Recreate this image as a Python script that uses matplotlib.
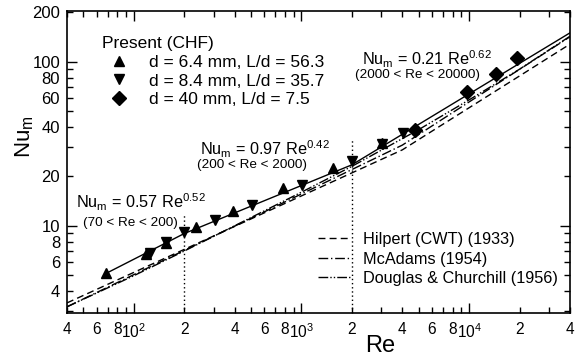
import numpy as np
import matplotlib
matplotlib.use("Agg")
import matplotlib.pyplot as plt
from matplotlib.ticker import FixedLocator, FixedFormatter
from matplotlib.lines import Line2D

plt.rcParams['font.family'] = ['Liberation Sans', 'DejaVu Sans']
plt.rcParams['mathtext.default'] = 'regular'

# present data
re_d64 = [68, 118, 156, 235, 392, 776, 1536, 3034]
nu_d64 = [5.17, 6.72, 7.88, 9.78, 12.3, 16.9, 22.4, 31.8]
re_d84 = [125, 155, 200, 305, 509, 1003, 1995, 3030, 4050]
nu_d84 = [6.84, 7.9, 9.1, 10.9, 13.4, 17.7, 24.9, 31.5, 36.6]
re_d40 = [4755, 9664, 14460, 19370]
nu_d40 = [38.3, 65.6, 84.1, 106]

# fitted curve (piecewise straight on log-log)
re_fit = [68, 200, 2000, 40000]
nu_fit = [5.1, 8.95, 23.5, 150]

# correlations
re_hil = [40, 4000, 40000]
nu_hil = [3.38, 29.0, 128]
re_mca = [40, 1000, 4000, 40000]
nu_mca = [3.2, 15.6, 31.0, 142]
re_dc = [40, 100, 200, 500, 1000, 2000, 5000, 10000, 20000, 40000]
nu_dc = [3.2, 4.95, 7.0, 11.2, 16.0, 23.0, 38.5, 58.5, 90, 143]

# range boundaries
re_bound = [200, 2000]
nu_bound_top = [12, 34]

x_major = [100, 1000, 10000]
x_minor = [40, 50, 60, 70, 80, 90, 200, 300, 400, 500, 600, 700, 800, 900,
           2000, 3000, 4000, 5000, 6000, 7000, 8000, 9000, 20000, 30000, 40000]
x_minor_lbl = ['4', '', '6', '', '8', '', '2', '', '4', '', '6', '', '8', '',
               '2', '', '4', '', '6', '', '8', '', '2', '', '4']
y_major = [10, 100]
y_minor = [3, 4, 5, 6, 7, 8, 9, 20, 30, 40, 50, 60, 70, 80, 90, 200]
y_minor_lbl = ['', '4', '', '6', '', '8', '', '20', '', '40', '', '60', '',
               '80', '', '200']

fig = plt.figure(figsize=(5.82, 3.58), dpi=100)
ax = fig.add_axes([67 / 582, 1 - 312.6 / 358, 503 / 582, (312.6 - 10.6) / 358])
ax.set_xscale('log')
ax.set_yscale('log')

ax.plot(re_hil, nu_hil, color='black', lw=1, dashes=(5, 3))
ax.plot(re_mca, nu_mca, color='black', lw=1, dashes=(7, 2, 1, 2))
ax.plot(re_dc, nu_dc, color='black', lw=1, dashes=(7, 1.5, 1, 1.5, 1, 1.5))
ax.plot(re_fit, nu_fit, color='black', lw=1)
ax.vlines(re_bound, 2.95, nu_bound_top, colors='black', lw=1,
          linestyles=(0, (1, 2)))

h1, = ax.plot(re_d64, nu_d64, '^', color='black', ms=7.5, ls='none')
h2, = ax.plot(re_d84, nu_d84, 'v', color='black', ms=7.5, ls='none')
h3, = ax.plot(re_d40, nu_d40, 'D', color='black', ms=7.5, ls='none')

ax.set_xlim(40, 40000)
ax.set_ylim(2.95, 205)

ax.xaxis.set_major_locator(FixedLocator(x_major))
ax.xaxis.set_major_formatter(FixedFormatter(['$10^2$', '$10^3$', '$10^4$']))
ax.xaxis.set_minor_locator(FixedLocator(x_minor))
ax.xaxis.set_minor_formatter(FixedFormatter(x_minor_lbl))
ax.yaxis.set_major_locator(FixedLocator(y_major))
ax.yaxis.set_major_formatter(FixedFormatter(['10', '100']))
ax.yaxis.set_minor_locator(FixedLocator(y_minor))
ax.yaxis.set_minor_formatter(FixedFormatter(y_minor_lbl))
ax.tick_params(which='both', direction='in', top=True, right=True,
               labelsize=12, width=1, pad=5)
ax.tick_params(which='major', length=7)
ax.tick_params(which='minor', length=4.5)
ax.tick_params(axis='x', which='both', pad=7, labelsize=11.2)
for s in ax.spines.values():
    s.set_linewidth(1.2)

ax.set_xlabel('Re', fontsize=17, labelpad=-4)
ax.xaxis.label.set_x(0.622)
ax.set_ylabel('Nu$_m$', fontsize=16, labelpad=-2.5)
ax.yaxis.label.set_y(0.581)

ax.text(45.3, 12.8, 'Nu$_m$ = 0.57 Re$^{0.52}$', fontsize=11.7, va='baseline')
ax.text(49.9, 10.0, '(70 < Re < 200)', fontsize=9.7, va='baseline')
ax.text(248, 26.97, 'Nu$_m$ = 0.97 Re$^{0.42}$', fontsize=11.7, va='baseline')
ax.text(238, 22.4, '(200 < Re < 2000)', fontsize=9.7, va='baseline')
ax.text(2286, 94.5, 'Nu$_m$ = 0.21 Re$^{0.62}$', fontsize=11.7, va='baseline')
ax.text(2085, 79.0, '(2000 < Re < 20000)', fontsize=9.7, va='baseline')

leg1 = ax.legend([h1, h2, h3],
                 ['d = 6.4 mm, L/d = 56.3', 'd = 8.4 mm, L/d = 35.7',
                  'd = 40 mm, L/d = 7.5'],
                 title='Present (CHF)', title_fontsize=12.5, fontsize=12.5,
                 loc='upper left', bbox_to_anchor=(0.069, 0.915),
                 frameon=False, borderpad=0, borderaxespad=0,
                 handlelength=1.95, handletextpad=0.76, labelspacing=0.2,
                 alignment='left')
ax.add_artist(leg1)

lh = [Line2D([], [], color='black', lw=1, dashes=(5, 3)),
      Line2D([], [], color='black', lw=1, dashes=(7, 2, 1, 2)),
      Line2D([], [], color='black', lw=1, dashes=(7, 1.5, 1, 1.5, 1, 1.5))]
ax.legend(lh, ['Hilpert (CWT) (1933)', 'McAdams (1954)',
               'Douglas & Churchill (1956)'],
          fontsize=11.7, loc='upper left', bbox_to_anchor=(0.499, 0.267),
          frameon=False, borderpad=0, borderaxespad=0,
          handlelength=2.0, handletextpad=0.8, labelspacing=0.28)

fig.savefig('out.png', dpi=100)
